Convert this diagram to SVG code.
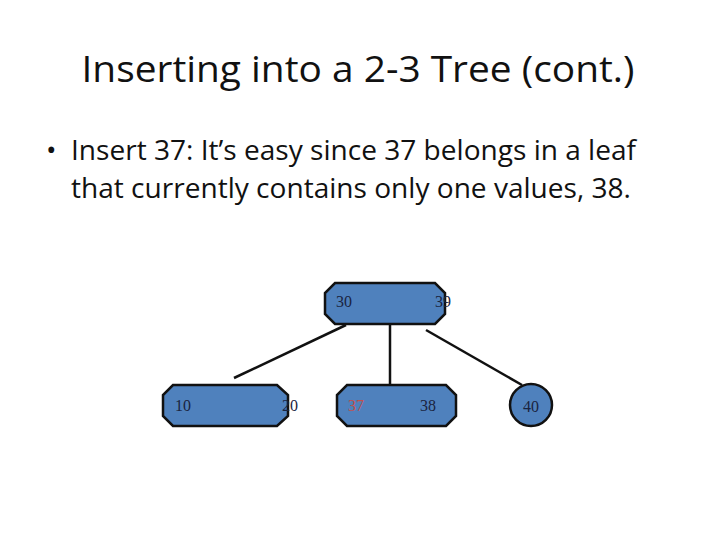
<svg xmlns="http://www.w3.org/2000/svg" width="720" height="540" viewBox="0 0 720 540">
<style>
.n{fill:#4f81bd;stroke:#111;stroke-width:2.5}
.t{font-family:"Times New Roman","Liberation Serif",serif;font-size:16px;fill:#1a2440}
.c{stroke:#111;stroke-width:2.5;fill:none}
.h{font-family:"Open Sans","Liberation Sans",sans-serif;fill:#111}
</style>
<rect width="720" height="540" fill="#fff"/>
<text class="h" x="358" y="82" font-size="36" text-anchor="middle" textLength="553" lengthAdjust="spacingAndGlyphs">Inserting into a 2-3 Tree (cont.)</text>
<text class="h" x="46" y="160" font-size="28">•</text>
<text class="h" x="71" y="160" font-size="27" textLength="565" lengthAdjust="spacingAndGlyphs">Insert 37: It’s easy since 37 belongs in a leaf</text>
<text class="h" x="71" y="198" font-size="27" textLength="560" lengthAdjust="spacingAndGlyphs">that currently contains only one values, 38.</text>
<g id="connectors">
<line class="c" x1="346" y1="325" x2="234" y2="378"/>
<line class="c" x1="390" y1="324" x2="390" y2="385"/>
<line class="c" x1="426" y1="330" x2="522" y2="385"/>
</g>
<g id="root">
<polygon class="n" points="335,283 435,283 445,293 445,314 435,324 335,324 325,314 325,293"/>
<text class="t" x="336" y="307">30</text>
<text class="t" x="435" y="307">39</text>
</g>
<g id="leaf1">
<polygon class="n" points="173,385 277,385 288,395 288,416 277,426 173,426 163,416 163,395"/>
<text class="t" x="175" y="411">10</text>
<text class="t" x="282" y="411">20</text>
</g>
<g id="leaf2">
<polygon class="n" points="347,385 446,385 456,395 456,416 446,426 347,426 337,416 337,395"/>
<text class="t" x="348" y="411" fill="#c0504d" style="fill:#c0504d">37</text>
<text class="t" x="420" y="411">38</text>
</g>
<g id="leaf3">
<circle class="n" cx="531" cy="405" r="21"/>
<text class="t" x="531" y="412" text-anchor="middle">40</text>
</g>
</svg>
